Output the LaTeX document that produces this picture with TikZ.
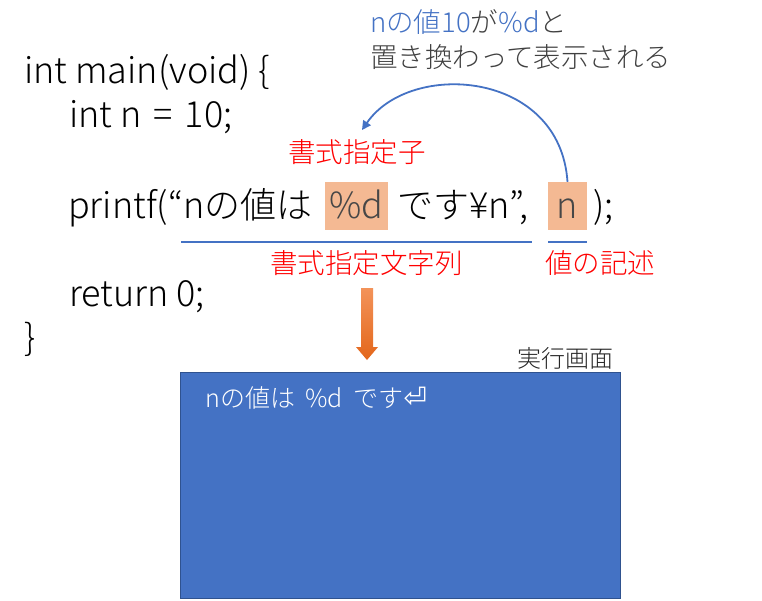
\documentclass[tikz,border=0pt]{standalone}
\usepackage{fontspec}
\IfFontExistsTF{Noto Sans CJK JP Light}{\setmainfont{Noto Sans CJK JP Light}}{\setmainfont{Noto Sans CJK JP}}
\newfontfamily\symfont{DejaVu Sans}
\usetikzlibrary{arrows.meta}
\definecolor{hl}{HTML}{F4B993}
\definecolor{bl}{HTML}{4472C4}
\definecolor{blb}{HTML}{2F528F}
\definecolor{rd}{HTML}{FF0000}
\definecolor{dk}{HTML}{262626}
\definecolor{gy}{HTML}{404040}
\definecolor{ortop}{HTML}{F3935A}
\definecolor{orbot}{HTML}{E3661A}
\tikzset{
  code/.style={anchor=base west, inner sep=0pt, font=\fontsize{36}{42}\selectfont, text=black},
  hlbox/.style={anchor=base, fill=hl, inner xsep=0pt, inner ysep=6pt, text height=30pt, text depth=6pt, font=\fontsize{36}{42}\selectfont, text=black!72},
  redlbl/.style={anchor=west, inner sep=0pt, font=\fontsize{27.5}{32}\selectfont, text=rd},
  toplbl/.style={anchor=west, inner sep=0pt, font=\fontsize{27.5}{32}\selectfont, text=gy},
  uline/.style={draw=bl, line width=1.8pt},
}
\begin{document}
\begin{tikzpicture}[x=1pt,y=-1pt]
\useasboundingbox (0,0) rectangle (762,600);
% code lines
\node[code] (l1) at (24,83) {int main(void) \{};
\node[code] (l2) at (69,127) {int n\hspace{4pt} =\hspace{4pt} 10;};
\node[code] (p1) at (68,218) {printf(“nの値は};
\node[hlbox, minimum width=63pt] (hl1) at (356.5,218) {\%d};
\node[code] (p2) at (397,218) {です¥n”,};
\node[hlbox, minimum width=39pt] (hl2) at (567.5,218) {n};
\node[code] (p3) at (593,218) {);};
\node[code] (l4) at (69,306) {return 0;};
\node[code] (l5) at (24,350) {\}};
% top annotation
\node[toplbl] (t1) at (370,22) {\textcolor{bl}{nの値10}が\textcolor{bl}{\%d}と};
\node[toplbl] (t2) at (370,57) {置き換わって表示される};
% red labels
\node[redlbl] (fs) at (288,152) {書式指定子};
\node[redlbl] (fsl) at (270,263) {書式指定文字列};
\node[redlbl] (vd) at (545,263) {値の記述};
% underlines
\coordinate (u1a) at (181,242);
\coordinate (u1b) at (532,242);
\coordinate (u2a) at (548,242);
\coordinate (u2b) at (587,242);
\draw[uline] (u1a) -- (u1b);
\draw[uline] (u2a) -- (u2b);
% curved arrow
\coordinate (tip) at (362,130);
\draw[draw=bl, line width=1.8pt, -{Triangle[length=9pt,width=9pt]}]
  (hl2.north) .. controls (560,70) and (410,60) .. (tip);
% orange block arrow
\coordinate (oa) at (367,288);
\shade[top color=ortop, bottom color=orbot]
  ([xshift=-6pt]oa) -- ([xshift=6pt]oa) -- ([xshift=6pt,yshift=-59pt]oa)
  -- ([xshift=11pt,yshift=-59pt]oa) -- ([yshift=-72pt]oa)
  -- ([xshift=-11pt,yshift=-59pt]oa) -- ([xshift=-6pt,yshift=-59pt]oa) -- cycle;
% screen
\node[anchor=base east, inner sep=0pt, font=\fontsize{24}{28}\selectfont, text=dk] (sl) at (614,367) {実行画面};
\node[draw=blb, line width=0.8pt, fill=bl, minimum width=440pt, minimum height=226pt, anchor=north west, inner sep=0pt] (scr) at (180,372) {};
\node[anchor=base west, inner sep=0pt, font=\fontsize{25}{30}\selectfont, text=white] (out) at (205,407) {nの値は\hspace{5pt} \%d\hspace{5pt} です{\symfont\fontsize{28}{30}\selectfont ⏎}};
\end{tikzpicture}
\end{document}
